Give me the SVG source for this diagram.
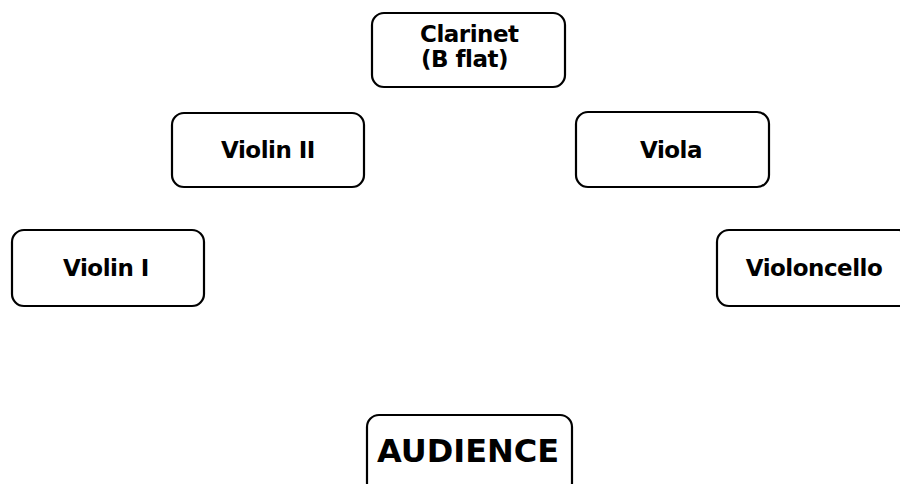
<svg xmlns="http://www.w3.org/2000/svg" width="900" height="484" viewBox="0 0 900 484">
  <style>
    .box { fill: #ffffff; stroke: #000000; stroke-width: 2.2; }
    .lbl { font-family: "DejaVu Sans", Verdana, sans-serif; font-weight: bold; font-size: 23px; letter-spacing: -0.5px; fill: #000000; }
    .big { font-size: 32px; letter-spacing: 0; }
  </style>
  <rect width="900" height="484" fill="#ffffff"/>

  <g id="clarinet">
    <rect class="box" x="372" y="13" width="193" height="74" rx="12"/>
    <text class="lbl" x="420" y="42">Clarinet</text>
    <text class="lbl" x="421" y="67">(B flat)</text>
  </g>

  <g id="violin2">
    <rect class="box" x="172" y="113" width="192" height="74" rx="12"/>
    <text class="lbl" x="268" y="158" text-anchor="middle">Violin II</text>
  </g>

  <g id="viola">
    <rect class="box" x="576" y="112" width="193" height="75" rx="12"/>
    <text class="lbl" x="671" y="158" text-anchor="middle">Viola</text>
  </g>

  <g id="violin1">
    <rect class="box" x="12" y="230" width="192" height="76" rx="12"/>
    <text class="lbl" x="106" y="276" text-anchor="middle">Violin I</text>
  </g>

  <g id="violoncello">
    <rect class="box" x="717" y="230" width="194" height="76" rx="12"/>
    <text class="lbl" x="814" y="276" text-anchor="middle">Violoncello</text>
  </g>

  <g id="audience">
    <rect class="box" x="367" y="415" width="205" height="80" rx="12"/>
    <text class="lbl big" x="468" y="462" text-anchor="middle">AUDIENCE</text>
  </g>

  <g id="connectors"></g>
</svg>
